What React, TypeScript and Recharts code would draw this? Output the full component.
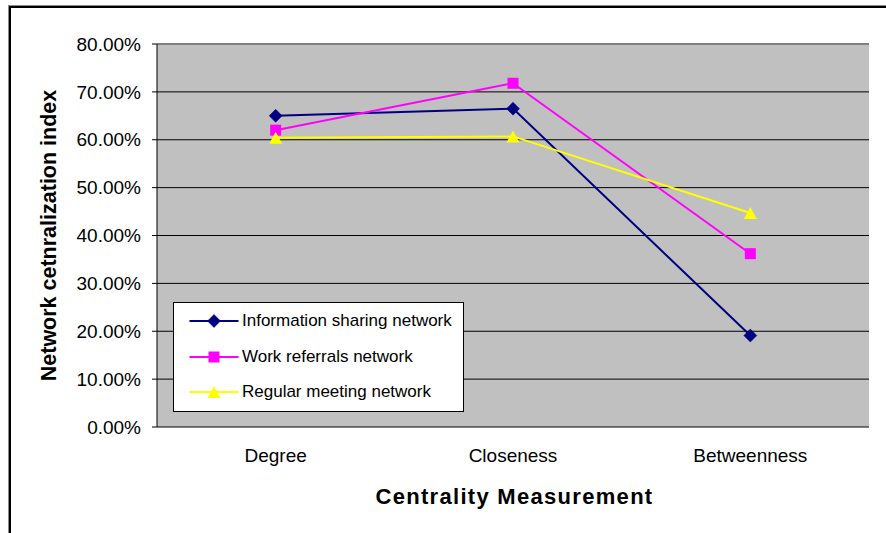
import React from 'react';
import {
  LineChart,
  Line,
  XAxis,
  YAxis,
  CartesianGrid,
  Legend,
  ReferenceLine,
  Label,
} from 'recharts';

// Centrality categories and network centralization values per network
const CATEGORIES = ['Degree', 'Closeness', 'Betweenness'];
const INFO_SHARING = [0.65, 0.665, 0.191];
const WORK_REFERRALS = [0.62, 0.718, 0.362];
const REGULAR_MEETING = [0.604, 0.607, 0.447];

const Y_TICKS = [0, 0.1, 0.2, 0.3, 0.4, 0.5, 0.6, 0.7, 0.8];
// Boundaries between the category bands, used for the x-axis tick marks
const EDGE_TICKS = [0, 1, 2, 3];

const SERIES = [
  { key: 'info', name: 'Information sharing network', color: '#000080', marker: 'diamond' },
  { key: 'work', name: 'Work referrals network', color: '#FF00FF', marker: 'square' },
  { key: 'meeting', name: 'Regular meeting network', color: '#FFFF00', marker: 'triangle' },
];

const data = CATEGORIES.map((category, i) => ({
  category,
  info: INFO_SHARING[i],
  work: WORK_REFERRALS[i],
  meeting: REGULAR_MEETING[i],
}));

const FONT = '"Liberation Sans", Arial, Helvetica, sans-serif';

const formatPercent = (v: number) => `${(v * 100).toFixed(2)}%`;

function Marker({ type, cx, cy, color }: { type: string; cx: number; cy: number; color: string }) {
  if (type === 'diamond') {
    const r = 6.5;
    return (
      <polygon
        points={`${cx},${cy - r} ${cx + r},${cy} ${cx},${cy + r} ${cx - r},${cy}`}
        fill={color}
        stroke={color}
        strokeWidth={0.5}
      />
    );
  }
  if (type === 'square') {
    const h = 5.5;
    return <rect x={cx - h} y={cy - h} width={h * 2} height={h * 2} fill={color} />;
  }
  const w = 6.5;
  return (
    <polygon
      points={`${cx},${cy - 6} ${cx + w},${cy + 6} ${cx - w},${cy + 6}`}
      fill={color}
    />
  );
}

const makeDot = (type: string, color: string) => (props: any) => {
  const { cx, cy, index } = props;
  if (cx == null || cy == null) return <g key={`e-${index}`} />;
  return (
    <g key={`${type}-${index}`}>
      <Marker type={type} cx={cx} cy={cy} color={color} />
    </g>
  );
};

const YTitle = (props: any) => {
  const vb = props.viewBox || { x: 57, y: 44, width: 100, height: 383 };
  const x = vb.x - 1.5;
  const y = vb.y + vb.height / 2;
  return (
    <text
      x={x}
      y={y}
      transform={`rotate(-90, ${x}, ${y})`}
      textAnchor="middle"
      fontFamily={FONT}
      fontWeight="bold"
      fontSize={21.5}
      fill="#000"
    >
      Network cetnralization index
    </text>
  );
};

const XTitle = (props: any) => {
  const vb = props.viewBox || { x: 157, y: 427, width: 712, height: 30 };
  return (
    <text
      x={vb.x + vb.width / 2 + 1.5}
      y={503.5}
      textAnchor="middle"
      fontFamily={FONT}
      fontWeight="bold"
      fontSize={22}
      letterSpacing={1.3}
      fill="#000"
    >
      Centrality Measurement
    </text>
  );
};

const LegendBox = () => (
  <div
    style={{
      width: 291,
      height: 110,
      boxSizing: 'border-box',
      border: '1px solid #000',
      background: '#fff',
      fontFamily: FONT,
      fontSize: 17,
      color: '#000',
    }}
  >
    {SERIES.map((s) => (
      <div key={s.key} style={{ height: 35.8, display: 'flex', alignItems: 'center' }}>
        <svg width={68} height={20} style={{ flex: 'none', display: 'block' }}>
          <line x1={15.5} x2={64.5} y1={10} y2={10} stroke={s.color} strokeWidth={2} />
          <Marker type={s.marker} cx={40} cy={10} color={s.color} />
        </svg>
        <span style={{ whiteSpace: 'nowrap', lineHeight: '20px' }}>{s.name}</span>
      </div>
    ))}
  </div>
);

export default function App() {
  return (
    <div
      style={{
        position: 'fixed',
        left: 0,
        top: 0,
        width: 886,
        height: 533,
        overflow: 'hidden',
        background: '#fff',
      }}
    >
      <div
        style={{
          position: 'absolute',
          left: 9,
          top: 6,
          width: 900,
          height: 600,
          boxSizing: 'border-box',
          border: '2px solid #000',
          boxShadow: '-1px -1px 0 #888',
        }}
      />
      <div style={{ position: 'absolute', left: 0, top: 0 }}>
        <LineChart
          width={886}
          height={533}
          data={data}
          margin={{ top: 44, right: 17, bottom: 76, left: 57 }}
        >
          <CartesianGrid
            xAxisId="cat"
            vertical={false}
            stroke="#000"
            strokeWidth={1}
            fill="#C0C0C0"
            fillOpacity={1}
          />
          <XAxis
            xAxisId="edge"
            type="number"
            domain={[0, 3]}
            ticks={EDGE_TICKS}
            interval={0}
            tickFormatter={() => ''}
            tickSize={6}
            height={0}
            stroke="#000"
            allowDataOverflow
          />
          <XAxis
            xAxisId="cat"
            dataKey="category"
            padding={{ left: 118.67, right: 118.67 }}
            interval={0}
            tickLine={false}
            axisLine={false}
            tickSize={6}
            tickMargin={16}
            height={30}
            tick={{ fontSize: 19, fill: '#000', fontFamily: FONT }}
          >
            <Label content={XTitle} />
          </XAxis>
          <YAxis
            domain={[0, 0.8]}
            ticks={Y_TICKS}
            interval={0}
            tickFormatter={formatPercent}
            width={100}
            tickSize={5}
            tickMargin={11}
            stroke="#000"
            tick={{ fontSize: 19, fill: '#000', fontFamily: FONT }}
          >
            <Label content={YTitle} />
          </YAxis>
          <ReferenceLine xAxisId="cat" y={0.8} stroke="#808080" strokeWidth={2} />
          <ReferenceLine xAxisId="edge" x={3} stroke="#808080" strokeWidth={2} />
          {SERIES.map((s) => (
            <Line
              key={s.key}
              xAxisId="cat"
              type="linear"
              dataKey={s.key}
              name={s.name}
              stroke={s.color}
              strokeWidth={2}
              dot={makeDot(s.marker, s.color)}
              activeDot={false}
              isAnimationActive={false}
            />
          ))}
          <Legend
            layout="vertical"
            align="center"
            verticalAlign="middle"
            wrapperStyle={{ position: 'absolute', left: 173, top: 302, width: 291, height: 110 }}
            content={LegendBox}
          />
        </LineChart>
      </div>
    </div>
  );
}
